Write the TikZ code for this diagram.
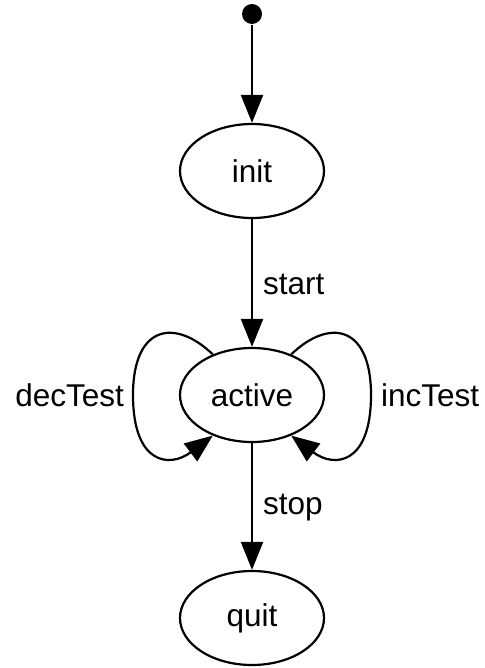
\documentclass[tikz,border=0pt]{standalone}
\usepackage{fontspec}
\setmainfont{Liberation Sans}
\usetikzlibrary{shapes.geometric,arrows.meta}
\begin{document}
\begin{tikzpicture}[x=1pt,y=-1pt,line width=2.2pt,
  state/.style={ellipse,draw,minimum width=144pt,minimum height=94pt,inner sep=0pt,
    font=\fontsize{31.5}{36}\selectfont},
  trans/.style={draw,-{Triangle[length=28pt,width=22pt]}},
  lbl/.style={inner sep=0pt,font=\fontsize{31.5}{36}\selectfont}]
\useasboundingbox (0,0) rectangle (484,668);

% initial pseudo-state
\node[circle,fill=black,inner sep=0pt,minimum size=20pt] (start) at (252,14) {};

% states
\node[state] (init)   at (252,171) {init};
\node[state] (active) at (252,395) {active};
\node[state] (quit)   at (252,618) {quit};

% straight transitions
\draw[trans] (start) -- (init);
\draw[trans] (init) -- node[lbl,anchor=west,xshift=10pt,yshift=-1pt] {start} (active);
\draw[trans] (active) -- node[lbl,anchor=west,xshift=10pt,yshift=-1pt] {stop} (quit);

% self loops
\draw[trans] (active.134) .. controls (175,318) and (133,325) .. (133,395)
  .. controls (133,465) and (170,468) .. (active.226);
\draw[trans] (active.46) .. controls (329,318) and (371,325) .. (371,395)
  .. controls (371,465) and (334,468) .. (active.-46);

% loop labels
\node[lbl,anchor=east] (decl) at (125,395) {decTest};
\node[lbl,anchor=west] (incl) at (380,395) {incTest};
\end{tikzpicture}
\end{document}
